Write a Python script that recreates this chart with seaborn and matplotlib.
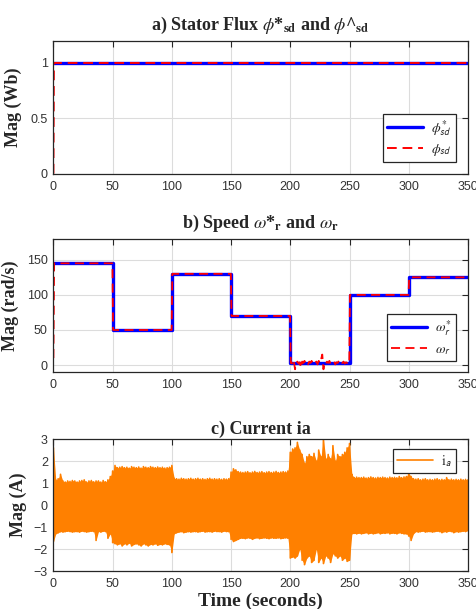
import matplotlib
matplotlib.use("Agg")
import matplotlib.pyplot as plt
import seaborn as sns
import numpy as np
import pandas as pd

# ---------------- data ----------------
# a) stator flux
phi_ref_t = [0, 350]
phi_ref_v = [1.0, 1.0]
phi_est_t = [0, 0.4, 350]
phi_est_v = [0.0, 1.0, 1.0]

# b) speed reference (step changes) and measured speed
w_ref_t = [0, 50, 100, 150, 200, 250, 300, 350]
w_ref_v = [145, 50, 130, 70, 3, 100, 125, 125]

w_t = [0, 0.6, 49.8, 50.4, 99.8, 100.4, 149.8, 150.4, 199.8, 200.4,
       201, 202, 203, 204, 205, 206, 207, 208, 209, 210,
       211, 212, 213, 214, 215, 216, 217, 218, 219, 220,
       221, 222, 223, 224, 225, 226, 227, 228, 229, 230,
       231, 232, 233, 234, 235, 236, 237, 238, 239, 240,
       241, 242, 243, 244, 245, 246, 247, 248, 249, 249.8,
       250.4, 299.8, 300.4, 350]
w_v = [10, 145, 145, 50, 50, 130, 130, 70, 70, 3,
       4, 1, 6, -6, 3, 5, 2, 4, -4, 5,
       3, 6, 2, 4, 1, 5, 3, 6, 2, 4,
       3, 5, 1, 6, 3, 8, 15, -6, 4, 2,
       5, 3, 6, 2, 4, 3, 5, 1, 4, 3,
       6, 2, 4, 3, 5, 2, 4, 3, 5, 3,
       100, 100, 125, 125]

# c) phase current ia: upper / lower envelope of the oscillation every 2 s
ia_t = list(range(0, 351, 2))
ia_up = [2.6, 1.15, 1.2, 1.4, 1.1, 1.05, 1.1, 1.08, 1.12, 1.1,
         1.05, 1.1, 1.12, 1.15, 1.05, 1.1, 1.12, 1.06, 1.1, 1.1,
         1.05, 1.12, 1.06, 1.15, 1.3, 1.55, 1.8, 1.7, 1.72, 1.75,
         1.7, 1.72, 1.68, 1.75, 1.72, 1.7, 1.73, 1.68, 1.75, 1.72,
         1.7, 1.75, 1.72, 1.7, 1.73, 1.7, 1.72, 1.68, 1.7, 1.72,
         1.8, 1.22, 1.2, 1.18, 1.22, 1.2, 1.18, 1.2, 1.22, 1.18,
         1.2, 1.22, 1.18, 1.2, 1.17, 1.2, 1.22, 1.18, 1.2, 1.18,
         1.2, 1.17, 1.2, 1.18, 1.2, 1.5, 1.65, 1.6, 1.52, 1.5,
         1.48, 1.5, 1.52, 1.47, 1.5, 1.53, 1.48, 1.5, 1.52, 1.47,
         1.5, 1.52, 1.48, 1.5, 1.53, 1.48, 1.5, 1.52, 1.5, 1.55,
         2.4, 2.55, 2.6, 2.85, 2.5, 2.3, 1.9, 2.2, 2.3, 2.2,
         2.35, 2.0, 2.5, 2.2, 3.0, 2.1, 2.3, 2.1, 2.7, 2.0,
         2.3, 2.2, 2.3, 2.4, 2.6, 2.8, 1.4, 1.25, 1.27, 1.25,
         1.25, 1.27, 1.23, 1.25, 1.28, 1.25, 1.23, 1.26, 1.25, 1.27,
         1.25, 1.23, 1.27, 1.25, 1.26, 1.24, 1.3, 1.25, 1.28, 1.3,
         1.45, 1.3, 1.2, 1.18, 1.2, 1.15, 1.18, 1.2, 1.15, 1.17,
         1.15, 1.18, 1.2, 1.15, 1.17, 1.15, 1.25, 1.15, 1.18, 1.15,
         1.17, 1.15, 1.18, 1.15, 1.17, 1.15]
ia_lo = [-1.65, -1.3, -1.25, -1.2, -1.22, -1.2, -1.18, -1.2, -1.22, -1.2,
         -1.2, -1.22, -1.18, -1.2, -1.22, -1.2, -1.18, -1.2, -1.6, -1.2,
         -1.22, -1.18, -1.2, -1.5, -1.3, -1.7, -1.75, -1.8, -1.75, -1.85,
         -1.75, -1.8, -1.72, -1.85, -1.78, -1.75, -1.8, -1.85, -1.75, -1.8,
         -1.85, -1.78, -1.8, -1.75, -1.82, -1.78, -1.8, -1.75, -1.78, -1.8,
         -2.15, -1.3, -1.25, -1.22, -1.2, -1.25, -1.22, -1.2, -1.22, -1.2,
         -1.2, -1.22, -1.2, -1.18, -1.22, -1.2, -1.2, -1.22, -1.18, -1.2,
         -1.2, -1.22, -1.18, -1.2, -1.2, -1.55, -1.65, -1.6, -1.55, -1.5,
         -1.5, -1.52, -1.48, -1.5, -1.55, -1.5, -1.48, -1.52, -1.5, -1.48,
         -1.5, -1.52, -1.48, -1.5, -1.5, -1.48, -1.52, -1.5, -1.48, -1.5,
         -2.4, -2.35, -2.4, -2.3, -2.0, -2.5, -2.7, -2.4, -2.3, -2.6,
         -2.5, -2.0, -2.6, -2.4, -2.65, -2.3, -2.4, -2.6, -2.2, -2.3,
         -2.4, -2.3, -2.5, -2.4, -2.55, -2.5, -1.3, -1.28, -1.3, -1.27,
         -1.3, -1.28, -1.25, -1.3, -1.27, -1.3, -1.28, -1.25, -1.3, -1.27,
         -1.28, -1.25, -1.3, -1.27, -1.28, -1.3, -1.25, -1.28, -1.3, -1.3,
         -1.4, -1.6, -1.3, -1.2, -1.22, -1.2, -1.18, -1.22, -1.2, -1.2,
         -1.22, -1.2, -1.18, -1.2, -1.25, -1.2, -1.22, -1.18, -1.2, -1.25,
         -1.2, -1.22, -1.2, -1.18, -1.2, -1.15]

x_ticks = [0, 50, 100, 150, 200, 250, 300, 350]

# ---------------- style ----------------
sns.set_style("white")
plt.rcParams.update({
    "font.family": ["Liberation Sans", "DejaVu Sans"],
    "mathtext.fontset": "stix",
    "axes.edgecolor": "#262626",
    "axes.linewidth": 0.9,
    "xtick.direction": "in",
    "ytick.direction": "in",
    "xtick.top": True,
    "ytick.right": True,
    "xtick.major.size": 4,
    "ytick.major.size": 4,
    "xtick.color": "#262626",
    "ytick.color": "#262626",
    "xtick.labelsize": 9,
    "ytick.labelsize": 9,
    "xtick.labelcolor": "#333333",
    "ytick.labelcolor": "#333333",
})

BLUE = "#0000FF"
RED = "#FF0000"
ORANGE = "#FF8000"
serif_bold = dict(family="Liberation Serif", weight="bold", size=13)

fig = plt.figure(figsize=(4.77, 6.09), dpi=100)
ax_a = fig.add_axes([0.112, 0.715, 0.869, 0.218])
ax_b = fig.add_axes([0.112, 0.389, 0.869, 0.219])
ax_c = fig.add_axes([0.112, 0.062, 0.869, 0.217])

def style(ax):
    ax.set_xlim(0, 350)
    ax.set_xticks(x_ticks)
    ax.grid(True, color="#DCDCDC", linewidth=0.8)
    ax.set_axisbelow(True)
    for s in ax.spines.values():
        s.set_visible(True)
    ax.tick_params(axis="x", pad=5)
    ax.tick_params(axis="y", pad=4)

# a) flux
sns.lineplot(x=phi_ref_t, y=phi_ref_v, ax=ax_a, color=BLUE, linewidth=2.4,
             estimator=None, sort=False, label=r"$\phi^{*}_{\mathsf{sd}}$")
sns.lineplot(x=phi_est_t, y=phi_est_v, ax=ax_a, color=RED, linewidth=1.4,
             estimator=None, sort=False, label=r"$\phi_{\mathsf{sd}}$")
ax_a.lines[1].set_dashes([5, 3])
style(ax_a)
ax_a.set_ylim(0, 1.2)
ax_a.set_yticks([0, 0.5, 1])
ax_a.set_yticklabels(["0", "0.5", "1"])
ax_a.set_title(r"a) Stator Flux $\phi$*$_{\mathbf{sd}}$ and $\phi$^$_{\mathbf{sd}}$",
               fontdict=serif_bold, pad=8)
ax_a.set_ylabel("Mag (Wb)", fontdict=serif_bold, labelpad=6)
ax_a.set_xlabel("")

# b) speed
sns.lineplot(x=w_ref_t, y=w_ref_v, ax=ax_b, color=BLUE, linewidth=2.4,
             estimator=None, sort=False, drawstyle="steps-post",
             label=r"$\omega^{*}_{\mathsf{r}}$")
sns.lineplot(x=w_t, y=w_v, ax=ax_b, color=RED, linewidth=1.3,
             estimator=None, sort=False, label=r"$\omega_{\mathsf{r}}$")
ax_b.lines[1].set_dashes([5, 3])
style(ax_b)
ax_b.set_ylim(-10, 180)
ax_b.set_yticks([0, 50, 100, 150])
ax_b.set_title(r"b) Speed $\omega$*$_{\mathbf{r}}$ and $\omega_{\mathbf{r}}$",
               fontdict=serif_bold, pad=8)
ax_b.set_ylabel("Mag (rad/s)", fontdict=serif_bold, labelpad=6)
ax_b.set_xlabel("")

# c) current: dense oscillation drawn as a zig-zag between envelope readings
zz = pd.DataFrame({
    "t": np.repeat(ia_t, 2),
    "ia": np.ravel(np.column_stack([ia_up, ia_lo])),
})
ax_c.fill_between(ia_t, ia_lo, ia_up, color=ORANGE, linewidth=0)
sns.lineplot(data=zz, x="t", y="ia", ax=ax_c, color=ORANGE, linewidth=1.2,
             estimator=None, sort=False, label=r"$\mathrm{i}_{\mathsf{a}}$")
style(ax_c)
ax_c.set_ylim(-3, 3)
ax_c.set_yticks([-3, -2, -1, 0, 1, 2, 3])
ax_c.set_title("c) Current ia", fontdict=serif_bold, pad=4)
ax_c.set_ylabel("Mag (A)", fontdict=serif_bold, labelpad=5)
ax_c.set_xlabel("Time (seconds)", fontdict=dict(family="Liberation Serif",
                weight="bold", size=14), labelpad=2)

# legends
for ax, loc, anchor in [(ax_a, "lower right", (0.971, 0.087)),
                        (ax_b, "lower right", (0.971, 0.083)),
                        (ax_c, "upper right", (0.971, 0.924))]:
    leg = ax.legend(loc=loc, bbox_to_anchor=anchor, borderaxespad=0,
                    fancybox=False, framealpha=1, edgecolor="#262626",
                    fontsize=10, handlelength=2.6, borderpad=0.3,
                    labelspacing=0.3, handletextpad=0.6)
    leg.get_frame().set_linewidth(0.9)

fig.savefig("out.png", dpi=100)
